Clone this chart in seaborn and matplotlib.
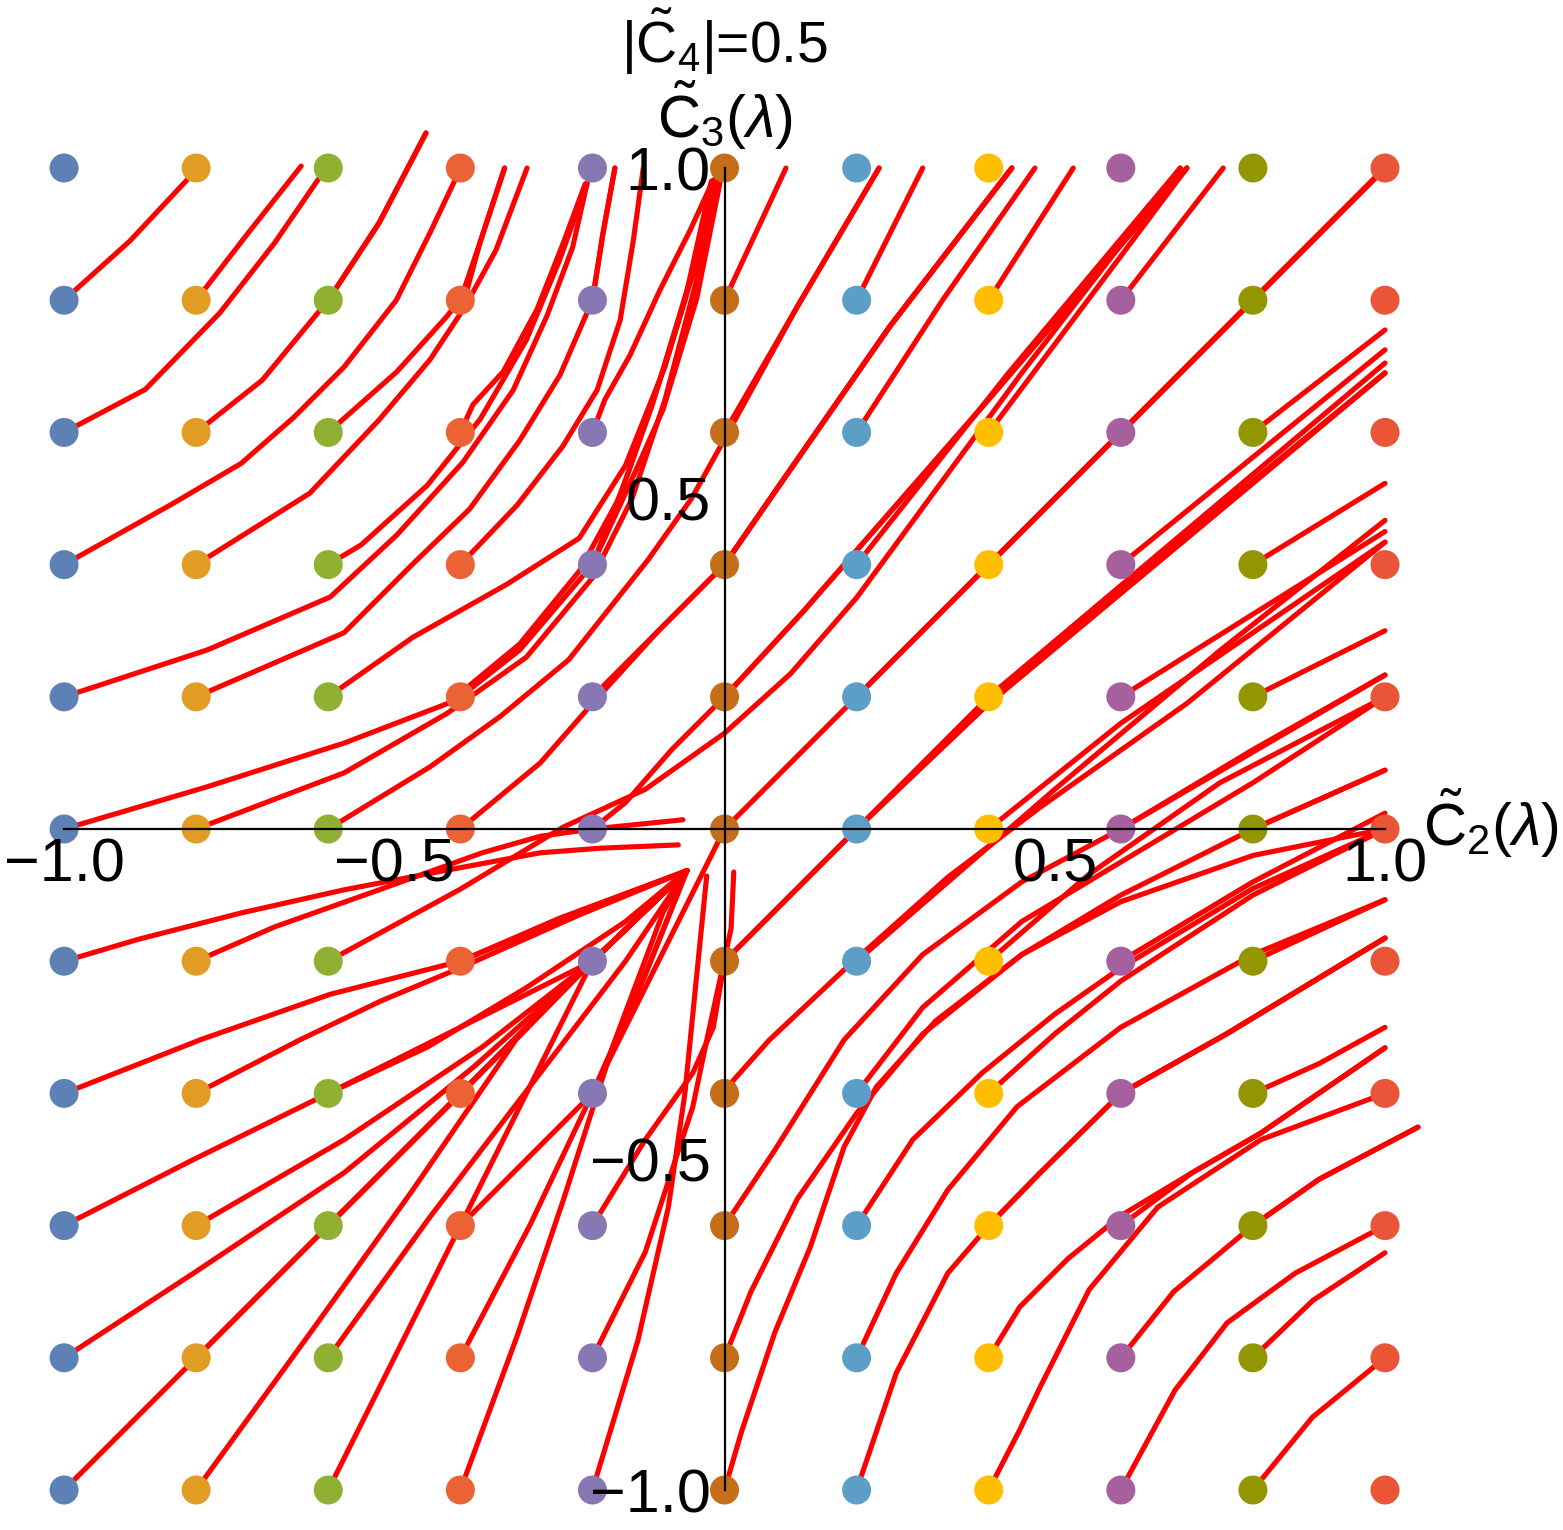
import numpy as np
import pandas as pd
import seaborn as sns
import matplotlib
matplotlib.use('Agg')
import matplotlib.pyplot as plt
from matplotlib.ticker import FixedLocator, FuncFormatter

# grid of starting couplings (C2, C3)
grid_vals = [-1.0, -0.8, -0.6, -0.4, -0.2, 0.0, 0.2, 0.4, 0.6, 0.8, 1.0]
dot_colors = ['#5E81B5', '#E19C24', '#8FB032', '#EB6235', '#8778B3', '#C56E1A',
              '#5D9EC7', '#FFBF00', '#A5609D', '#929600', '#E95536']

# flow lines, each one starts at a grid dot
upper_left = [
    [(-1, 0.8), (-0.90, 0.89), (-0.812, 0.984)],
    [(-0.8, 0.8), (-0.721, 0.902), (-0.641, 1.003)],
    [(-0.6, 0.8), (-0.523, 0.917), (-0.452, 1.053)],
    [(-0.4, 0.8), (-0.37, 0.888), (-0.333, 1.0)],
    [(-0.2, 0.8), (-0.184, 0.901), (-0.166, 1.0)],
    [(-1, 0.6), (-0.877, 0.665), (-0.764, 0.781), (-0.681, 0.887), (-0.613, 0.986)],
    [(-0.8, 0.6), (-0.70, 0.679), (-0.6, 0.8), (-0.523, 0.917), (-0.452, 1.053)],
    [(-0.6, 0.6), (-0.496, 0.692), (-0.42, 0.776), (-0.39, 0.815), (-0.37, 0.888), (-0.333, 1.0)],
    [(-0.4, 0.6), (-0.381, 0.642), (-0.335, 0.692), (-0.284, 0.786), (-0.244, 0.887), (-0.211, 0.976)],
    [(-0.2, 0.6), (-0.181, 0.65), (-0.143, 0.717), (-0.098, 0.815), (-0.052, 0.906), (-0.017, 0.982)],
    [(-1, 0.4), (-0.836, 0.492), (-0.732, 0.553), (-0.653, 0.622), (-0.576, 0.699), (-0.497, 0.8),
     (-0.446, 0.902), (-0.408, 0.982)],
    [(-0.8, 0.4), (-0.628, 0.508), (-0.523, 0.619), (-0.446, 0.71), (-0.393, 0.79), (-0.346, 0.876),
     (-0.299, 1.0)],
    [(-0.6, 0.4), (-0.55, 0.43), (-0.45, 0.52), (-0.37, 0.62), (-0.3, 0.74), (-0.25, 0.86), (-0.208, 0.977)],
    [(-0.4, 0.4), (-0.314, 0.49), (-0.245, 0.579), (-0.193, 0.664), (-0.158, 0.77), (-0.138, 0.891),
     (-0.123, 1.0)],
    [(-0.2, 0.4), (-0.143, 0.523), (-0.093, 0.635), (-0.042, 0.803), (-0.007, 0.977)],
    [(-1, 0.2), (-0.783, 0.271), (-0.597, 0.351), (-0.496, 0.445), (-0.396, 0.555), (-0.32, 0.664),
     (-0.269, 0.776), (-0.23, 0.88), (-0.208, 0.977)],
    [(-0.8, 0.2), (-0.576, 0.297), (-0.472, 0.401), (-0.386, 0.484), (-0.31, 0.588), (-0.249, 0.687),
     (-0.2, 0.8), (-0.184, 0.902), (-0.166, 1.0)],
    [(-0.6, 0.2), (-0.472, 0.29), (-0.33, 0.37), (-0.22, 0.44), (-0.15, 0.55), (-0.09, 0.7),
     (-0.045, 0.85), (-0.012, 0.985)],
    [(-0.4, 0.2), (-0.31, 0.271), (-0.2, 0.4), (-0.15, 0.527), (-0.098, 0.679), (-0.052, 0.831),
     (-0.014, 0.982)],
    [(-0.2, 0.2), (-0.1, 0.3), (0, 0.4), (0.09, 0.53), (0.25, 0.76), (0.435, 1.0)],
    [(-1, 0), (-0.783, 0.064), (-0.576, 0.13), (-0.419, 0.19), (-0.31, 0.28), (-0.22, 0.39),
     (-0.16, 0.5), (-0.11, 0.64), (-0.06, 0.8), (-0.02, 0.98)],
    [(-0.8, 0), (-0.576, 0.085), (-0.42, 0.175), (-0.3, 0.26), (-0.2, 0.38), (-0.14, 0.5),
     (-0.09, 0.65), (-0.045, 0.82), (-0.01, 0.985)],
    [(-0.6, 0), (-0.446, 0.094), (-0.34, 0.17), (-0.236, 0.256), (-0.116, 0.407), (-0.05, 0.5),
     (0, 0.59), (0.11, 0.79), (0.234, 1.0)],
    [(-0.4, 0), (-0.279, 0.1), (-0.2, 0.19), (-0.1, 0.3), (0, 0.4), (0.09, 0.53), (0.25, 0.76), (0.435, 1.0)],
    [(-0.2, 0), (-0.15, 0.04), (-0.08, 0.12), (0, 0.2), (0.12, 0.33), (0.40, 0.65), (0.70, 1.0)],
]

lower_left = [
    [(-1, -0.2), (-0.888, -0.167), (-0.732, -0.127), (-0.576, -0.092), (-0.419, -0.062), (-0.279, -0.036),
     (-0.188, -0.029), (-0.07, -0.024)],
    [(-0.8, -0.2), (-0.681, -0.148), (-0.523, -0.092), (-0.367, -0.036), (-0.279, -0.011), (-0.2, 0.0),
     (-0.063, 0.014)],
    [(-0.6, -0.2), (-0.4, -0.091), (-0.244, 0.003), (-0.12, 0.06), (0, 0.145), (0.1, 0.235), (0.2, 0.35),
     (0.45, 0.69), (0.69, 1.0)],
    [(-0.4, -0.2), (-0.25, -0.135), (-0.057, -0.063)],
    [(-0.2, -0.2), (-0.057, -0.063)],
    [(-1, -0.4), (-0.794, -0.319), (-0.597, -0.25), (-0.4, -0.2), (-0.22, -0.125), (-0.057, -0.063)],
    [(-0.8, -0.4), (-0.643, -0.319), (-0.52, -0.26), (-0.4, -0.21), (-0.22, -0.13), (-0.057, -0.063)],
    [(-0.6, -0.4), (-0.45, -0.33), (-0.3, -0.24), (-0.15, -0.14), (-0.057, -0.063)],
    [(-0.4, -0.4), (-0.2, -0.2), (-0.057, -0.063)],
    [(-0.2, -0.4), (-0.12, -0.22), (-0.057, -0.063)],
    [(-1, -0.6), (-0.804, -0.5), (-0.6, -0.4), (-0.4, -0.3), (-0.2, -0.2), (-0.057, -0.063)],
    [(-0.8, -0.6), (-0.576, -0.47), (-0.367, -0.33), (-0.2, -0.2), (-0.057, -0.063)],
    [(-0.6, -0.6), (-0.419, -0.42), (-0.2, -0.2), (-0.057, -0.063)],
    [(-0.4, -0.6), (-0.2, -0.4), (-0.1, -0.2), (0, 0)],
    [(-0.2, -0.6), (-0.12, -0.47), (-0.048, -0.369), (-0.017, -0.3), (0, -0.2), (0.1, -0.1), (0.2, 0),
     (0.4, 0.19), (1, 0.69)],
    [(-1, -0.8), (-0.804, -0.672), (-0.576, -0.52), (-0.38, -0.36), (-0.2, -0.2), (-0.057, -0.063)],
    [(-0.8, -0.8), (-0.6, -0.6), (-0.4, -0.4), (-0.2, -0.2), (-0.057, -0.063)],
    [(-0.6, -0.8), (-0.446, -0.587), (-0.279, -0.369), (-0.15, -0.2), (-0.057, -0.063)],
    [(-0.4, -0.8), (-0.294, -0.598), (-0.2, -0.4), (-0.12, -0.22), (-0.057, -0.063)],
    [(-0.2, -0.8), (-0.12, -0.64), (-0.048, -0.42), (-0.027, -0.32), (0.01, -0.15), (0.014, -0.065)],
    [(-1, -1), (-0.8, -0.8), (-0.6, -0.6), (-0.4, -0.4), (-0.2, -0.2), (-0.057, -0.063)],
    [(-0.8, -1), (-0.627, -0.762), (-0.472, -0.546), (-0.316, -0.319), (-0.2, -0.2), (-0.057, -0.063)],
    [(-0.6, -1), (-0.5, -0.8), (-0.4, -0.6), (-0.3, -0.4), (-0.2, -0.2), (-0.057, -0.063)],
    [(-0.4, -1), (-0.314, -0.767), (-0.245, -0.564), (-0.169, -0.328), (-0.093, -0.126), (-0.057, -0.063)],
    [(-0.2, -1), (-0.131, -0.773), (-0.085, -0.572), (-0.06, -0.40), (-0.04, -0.2), (-0.027, -0.071)],
]

upper_right = [
    [(0, 0.8), (0.093, 1.0)],
    [(0.2, 0.8), (0.30, 1.0)],
    [(0.4, 0.8), (0.528, 1.0)],
    [(0.6, 0.8), (0.755, 1.0)],
    [(0.8, 0.8), (1, 1)],
    [(0, 0.6), (0.11, 0.79), (0.234, 1.0)],
    [(0.2, 0.6), (0.33, 0.8), (0.47, 1.0)],
    [(0.4, 0.6), (0.55, 0.8), (0.70, 1.0)],
    [(0.6, 0.6), (1, 1)],
    [(0.8, 0.6), (1, 0.755)],
    [(0, 0.4), (0.09, 0.53), (0.25, 0.76), (0.435, 1.0)],
    [(0.2, 0.4), (0.43, 0.69), (0.69, 1.0)],
    [(0.4, 0.4), (1, 1)],
    [(0.6, 0.4), (1, 0.725)],
    [(0.8, 0.4), (1, 0.523)],
    [(0, 0.2), (0.12, 0.33), (0.40, 0.65), (0.70, 1.0)],
    [(0.2, 0.2), (1, 1)],
    [(0.4, 0.2), (1, 0.69)],
    [(0.6, 0.2), (1, 0.45)],
    [(0.8, 0.2), (1, 0.30)],
    [(0, 0), (1, 1)],
    [(0.2, 0), (0.4, 0.2), (1, 0.705)],
    [(0.4, 0), (0.6, 0.16), (1, 0.434)],
    [(0.6, 0), (1, 0.233)],
    [(0.8, 0), (1, 0.089)],
]

lower_right = [
    [(0, -0.2), (0.1, -0.1), (0.2, 0), (0.4, 0.19), (1, 0.69)],
    [(0.2, -0.2), (0.35, -0.07), (0.5, 0.06), (0.75, 0.27), (1, 0.467)],
    [(0.4, -0.2), (0.55, -0.07), (0.75, 0.07), (1, 0.2)],
    [(0.6, -0.2), (0.8, -0.08), (1, 0.024)],
    [(0.8, -0.2), (1, -0.107)],
    [(0, -0.4), (0.01, -0.384), (0.068, -0.319), (0.181, -0.213), (0.338, -0.073), (0.478, 0.033),
     (0.7, 0.19), (1, 0.434)],
    [(0.2, -0.4), (0.3, -0.27), (0.45, -0.14), (0.6, -0.05), (0.8, 0.07), (1, 0.2)],
    [(0.4, -0.4), (0.5, -0.31), (0.6, -0.23), (0.8, -0.1), (1, 0.0)],
    [(0.6, -0.4), (0.76, -0.31), (1, -0.165)],
    [(0.8, -0.4), (0.9, -0.355), (1, -0.30)],
    [(0, -0.6), (0.076, -0.486), (0.181, -0.319), (0.3, -0.19), (0.45, -0.08), (0.6, 0.0), (0.8, 0.12),
     (1, 0.233)],
    [(0.2, -0.6), (0.285, -0.47), (0.39, -0.369), (0.5, -0.28), (0.6, -0.21), (0.8, -0.09), (1, 0.0)],
    [(0.4, -0.6), (0.478, -0.52), (0.6, -0.4), (0.76, -0.31), (1, -0.165)],
    [(0.6, -0.6), (0.708, -0.52), (0.812, -0.46), (1, -0.331)],
    [(0.8, -0.6), (0.9, -0.53), (1.05, -0.451)],
    [(0, -0.8), (0.04, -0.7), (0.11, -0.56), (0.2, -0.43), (0.3, -0.31), (0.45, -0.19), (0.6, -0.1),
     (0.8, 0.0), (1, 0.089)],
    [(0.2, -0.8), (0.26, -0.672), (0.338, -0.546), (0.443, -0.42), (0.6, -0.3), (0.8, -0.19), (1, -0.107)],
    [(0.4, -0.8), (0.447, -0.723), (0.52, -0.65), (0.6, -0.585), (0.708, -0.52), (0.812, -0.46),
     (1, -0.331)],
    [(0.6, -0.8), (0.68, -0.70), (0.8, -0.6), (0.9, -0.53), (1.05, -0.451)],
    [(0.8, -0.8), (0.891, -0.713), (1, -0.641)],
    [(0, -1), (0.025, -0.914), (0.076, -0.762), (0.13, -0.632), (0.181, -0.481), (0.23, -0.39),
     (0.32, -0.29), (0.45, -0.19), (0.6, -0.11), (0.8, -0.04), (1, 0.0)],
    [(0.2, -1), (0.26, -0.823), (0.338, -0.672), (0.4, -0.6), (0.478, -0.52), (0.6, -0.4), (0.76, -0.31),
     (1, -0.165)],
    [(0.4, -1), (0.447, -0.909), (0.478, -0.844), (0.552, -0.697), (0.656, -0.572), (0.812, -0.47),
     (1, -0.4)],
    [(0.6, -1), (0.682, -0.849), (0.761, -0.747), (0.864, -0.672), (1, -0.6)],
    [(0.8, -1), (0.89, -0.89), (1, -0.8)],
]

sns.set_style('white')
plt.rcParams['font.family'] = ['Liberation Sans', 'DejaVu Sans']
plt.rcParams['mathtext.fontset'] = 'custom'
plt.rcParams['mathtext.rm'] = 'Liberation Sans'
plt.rcParams['mathtext.it'] = 'Liberation Sans:italic'
plt.rcParams['mathtext.bf'] = 'Liberation Sans:bold'
plt.rcParams['text.color'] = 'black'

rows = []
for k, path in enumerate(upper_left + lower_left + upper_right + lower_right):
    for x, y in path:
        rows.append((k, x, y))
lines = pd.DataFrame(rows, columns=['curve', 'x', 'y'])

gx, gy = np.meshgrid(grid_vals, grid_vals)
dots = pd.DataFrame({'x': gx.ravel(), 'y': gy.ravel()})
dots['col'] = [f"{v:.1f}" for v in dots['x']]
col_order = [f"{v:.1f}" for v in grid_vals]
palette = dict(zip(col_order, dot_colors))

fig = plt.figure(figsize=(15.63, 15.30), dpi=100)
ax = fig.add_axes([0, 0, 1, 1])

sns.lineplot(data=lines, x='x', y='y', units='curve', estimator=None, sort=False,
             color='#FF0000', lw=3.7, ax=ax, zorder=2)
sns.scatterplot(data=dots, x='x', y='y', hue='col', hue_order=col_order, palette=palette,
                s=436, linewidth=0, legend=False, ax=ax, zorder=3)

ax.set_xlim(-1.097, 1.2695)
ax.set_ylim(-1.0605, 1.2542)
ax.set_xlabel('')
ax.set_ylabel('')
for s in ['top', 'right']:
    ax.spines[s].set_visible(False)
for s in ['left', 'bottom']:
    ax.spines[s].set_position(('data', 0))
    ax.spines[s].set_bounds(-1, 1)
    ax.spines[s].set_linewidth(1.6)
    ax.spines[s].set_color('black')
    ax.spines[s].set_zorder(5)

major = [-1.0, -0.5, 0.5, 1.0]
minor = [v / 10 for v in range(-9, 10) if v not in (-5, 0, 5)]
fmt = FuncFormatter(lambda v, p: f"{v:.1f}".replace('-', '\u2212'))
for axis in [ax.xaxis, ax.yaxis]:
    axis.set_major_locator(FixedLocator(major))
    axis.set_minor_locator(FixedLocator(minor))
    axis.set_major_formatter(fmt)
    axis.set_zorder(6)
ax.tick_params(which='major', direction='in', length=7, width=1.3, color='#7f7f7f',
               labelsize=44, labelcolor='black')
ax.tick_params(which='minor', direction='in', length=4, width=1.1, color='#7f7f7f')
ax.tick_params(axis='x', pad=6)
ax.tick_params(axis='y', pad=10)

ax.text(0, 1.08, r'$\tilde{\mathrm{C}}_3(\lambda)$', ha='center', va='center', fontsize=43,
        color='black', zorder=7)
ax.text(1.058, 0.008, r'$\tilde{\mathrm{C}}_2(\lambda)$', ha='left', va='center', fontsize=43,
        color='black', zorder=7)
ax.text(0, 1.192, r'$|\tilde{\mathrm{C}}_4|$=0.5', ha='center', va='center', fontsize=41,
        color='black', zorder=7)

fig.savefig('out.png', dpi=100)
